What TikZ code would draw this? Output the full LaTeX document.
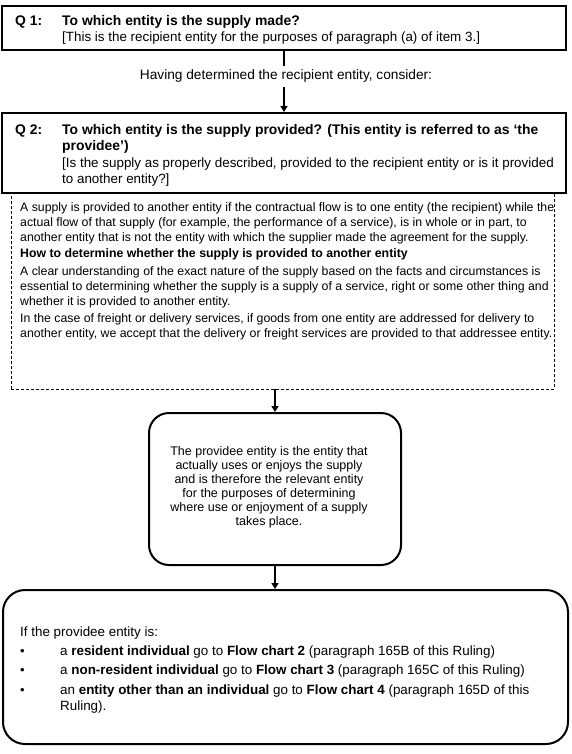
\documentclass[tikz,border=0pt]{standalone}
\usepackage{fontspec}
\setmainfont{Liberation Sans}
\usetikzlibrary{arrows.meta}
\begin{document}
\begin{tikzpicture}[x=1pt,y=-1pt,
  txt/.style={anchor=base west,inner sep=0pt,font=\fontsize{12.3}{15}\selectfont},
  qtxt/.style={anchor=base west,inner sep=0pt,font=\fontsize{13.4}{16}\selectfont},
  qbtxt/.style={anchor=base west,inner sep=0pt,font=\fontsize{13.9}{16}\selectfont\bfseries},
  ftxt/.style={anchor=base west,inner sep=0pt,font=\fontsize{13.4}{16}\selectfont},
  ctxt/.style={anchor=base,inner sep=0pt,font=\fontsize{12.5}{14}\selectfont},
  qbox/.style={draw,line width=2pt,fill=white,inner sep=0pt},
  dbox/.style={draw,line width=0.9pt,dash pattern=on 3pt off 2pt,inner sep=0pt},
  rbox/.style={draw,line width=2pt,rounded corners=20pt,inner sep=0pt},
  conn/.style={line width=1.7pt},
  arrow/.style={line width=1.7pt,-{Triangle[width=7pt,length=6pt]}},
  bul/.style={anchor=base west,inner sep=0pt,font=\fontsize{13}{14}\selectfont}]
\useasboundingbox (0,0) rectangle (572,754);
\fill[white] (0,0) rectangle (572,754);

% boxes
\node[qbox,minimum width=564pt,minimum height=44pt] (q1) at (284,28) {};
\node[dbox,minimum width=543pt,minimum height=196pt] (dbox) at (282.5,291) {};
\node[qbox,minimum width=564pt,minimum height=80pt] (q2) at (284,153) {};
\node[rbox,minimum width=252pt,minimum height=152pt] (rb) at (275,489) {};
\node[rbox,rounded corners=22pt,minimum width=565pt,minimum height=154pt] (fb) at (285.5,667) {};

% Q1 text
\node[qbtxt] (q1lab) at (15,26) {Q 1:};
\node[qbtxt] (q1a) at (62,26) {To which entity is the supply made?};
\node[qtxt] (q1b) at (62,42) {[This is the recipient entity for the purposes of paragraph (a) of item 3.]};

% middle text and connectors
\node[qtxt,anchor=base,inner ysep=4pt,font=\fontsize{13.7}{16}\selectfont] (having) at (286,80) {Having determined the recipient entity, consider:};
\draw[conn] (q1.south) -- (q1.south |- having.north);
\draw[arrow] (q1.south |- having.south) -- (q2.north);

% Q2 text
\node[qbtxt] (q2lab) at (15,134.5) {Q 2:};
\node[qbtxt] (q2a) at (62,134.5) {To which entity is the supply provided? (This entity is referred to as ‘the};
\node[qbtxt] (q2b) at (62,150.5) {providee’)};
\node[qtxt] (q2c) at (62,167.5) {[Is the supply as properly described, provided to the recipient entity or is it provided};
\node[qtxt] (q2d) at (62,183.5) {to another entity?]};

% dashed box text
\node[txt] (d1) at (20,211.5) {A supply is provided to another entity if the contractual flow is to one entity (the recipient) while the};
\node[txt] (d2) at (20,226.5) {actual flow of that supply (for example, the performance of a service), is in whole or in part, to};
\node[txt] (d3) at (20,241.5) {another entity that is not the entity with which the supplier made the agreement for the supply.};
\node[txt] (d4) at (20,257.5) {\textbf{How to determine whether the supply is provided to another entity}};
\node[txt] (d5) at (20,275.5) {A clear understanding of the exact nature of the supply based on the facts and circumstances is};
\node[txt] (d6) at (20,290.5) {essential to determining whether the supply is a supply of a service, right or some other thing and};
\node[txt] (d7) at (20,305.5) {whether it is provided to another entity.};
\node[txt] (d8) at (20,322.5) {In the case of freight or delivery services, if goods from one entity are addressed for delivery to};
\node[txt] (d9) at (20,337.5) {another entity, we accept that the delivery or freight services are provided to that addressee entity.};

\draw[arrow] (dbox.south -| rb.north) -- (rb.north);

% rounded box text
\node[ctxt] (r1) at (269,455.5) {The providee entity is the entity that};
\node[ctxt] (r2) at (269,469.5) {actually uses or enjoys the supply};
\node[ctxt] (r3) at (269,483.5) {and is therefore the relevant entity};
\node[ctxt] (r4) at (269,497.5) {for the purposes of determining};
\node[ctxt] (r5) at (269,511.5) {where use or enjoyment of a supply};
\node[ctxt] (r6) at (269,525.5) {takes place.};

\draw[arrow] (rb.south) -- (rb.south |- fb.north);

% final box text
\node[ftxt] (f0) at (20,636.5) {If the providee entity is:};
\node[bul] (b1) at (20,655.5) {•};
\node[bul] (b2) at (20,674.5) {•};
\node[bul] (b3) at (20,694.5) {•};
\node[ftxt] (f1) at (60,655.5) {a \textbf{resident individual} go to \textbf{Flow chart 2} (paragraph 165B of this Ruling)};
\node[ftxt] (f2) at (60,674.5) {a \textbf{non-resident individual} go to \textbf{Flow chart 3} (paragraph 165C of this Ruling)};
\node[ftxt] (f3) at (60,694.5) {an \textbf{entity other than an individual} go to \textbf{Flow chart 4} (paragraph 165D of this};
\node[ftxt] (f4) at (60,710.5) {Ruling).};
\end{tikzpicture}
\end{document}
